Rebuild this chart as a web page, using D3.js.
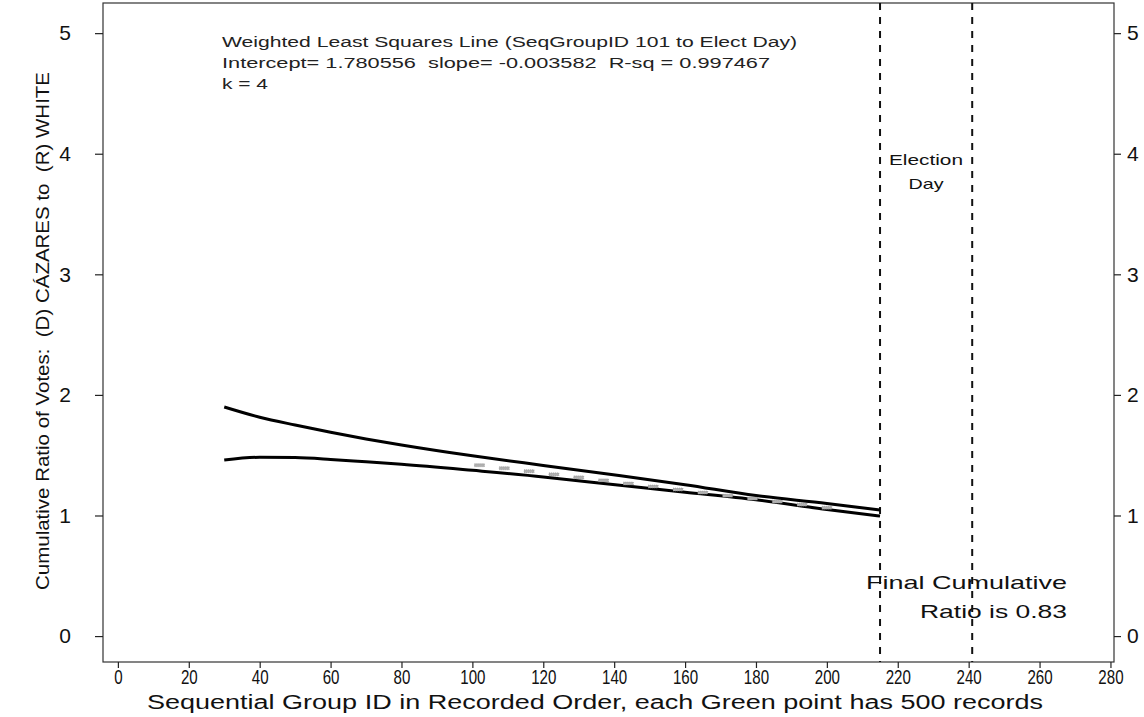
<!DOCTYPE html>
<html>
<head>
<meta charset="utf-8">
<script src="https://cdnjs.cloudflare.com/ajax/libs/d3/7.8.5/d3.min.js"></script>
<style>
    body { margin: 0; background: #fff; }
    text { font-family: 'Liberation Sans', Arial, sans-serif; fill: #111; white-space: pre; }
</style>
</head>
<body>
<svg id="chart" width="1144" height="717"></svg>
<script>
'use strict';

// tick values
var xTicks = [0, 20, 40, 60, 80, 100, 120, 140, 160, 180, 200, 220, 240, 260, 280];
var yTicks = [0, 1, 2, 3, 4, 5];

// upper / lower curves (SeqGroupID, cumulative ratio)
var upperX = [30, 40, 50, 60, 70, 80, 100, 120, 136, 160, 180, 200, 215];
var upperY = [1.90, 1.815, 1.75, 1.69, 1.635, 1.585, 1.495, 1.415, 1.352, 1.255, 1.165, 1.10, 1.045];
var lowerX = [30, 40, 50, 60, 70, 80, 100, 120, 133, 160, 180, 200, 215];
var lowerY = [1.46, 1.483, 1.48, 1.465, 1.445, 1.425, 1.375, 1.32, 1.277, 1.193, 1.13, 1.05, 0.995];

// group points near the fitted line
var pointX = [102, 109, 116, 123, 130, 137, 144, 151, 158, 165, 172, 179, 186, 193, 200];
var pointY = [1.417, 1.392, 1.367, 1.341, 1.316, 1.291, 1.265, 1.240, 1.215, 1.190, 1.164, 1.140, 1.115, 1.090, 1.064];

// vertical markers
var electionDay = 215;
var finalDay = 241;

var svg = d3.select('#chart');

var x = d3.scaleLinear().domain([-4.2, 281]).range([103, 1114]);
var y = d3.scaleLinear().domain([-0.215, 5.25]).range([662, 3]);

/*
 * Frame
 */
svg.append('rect')
    .attr('x', x.range()[0])
    .attr('y', y.range()[1])
    .attr('width', x.range()[1] - x.range()[0])
    .attr('height', y.range()[0] - y.range()[1])
    .style('fill', 'none')
    .style('stroke', '#333')
    .style('stroke-width', 1.2);

/*
 * Axes
 */
var left = svg.append('g')
    .attr('transform', 'translate(' + x.range()[0] + ',0)')
    .call(d3.axisLeft(y).tickValues(yTicks).tickSize(8).tickPadding(24).tickFormat(d3.format('d')));
left.selectAll('text').style('font-size', '21px');

var right = svg.append('g')
    .attr('transform', 'translate(' + x.range()[1] + ',0)')
    .call(d3.axisRight(y).tickValues(yTicks).tickSize(7).tickPadding(6).tickFormat(d3.format('d')));
right.selectAll('text').style('font-size', '21px');

var bottom = svg.append('g')
    .attr('transform', 'translate(0,' + y.range()[0] + ')')
    .call(d3.axisBottom(x).tickValues(xTicks).tickSize(6).tickPadding(2).tickFormat(d3.format('d')));
bottom.selectAll('text')
    .style('font-size', '20px')
    .attr('textLength', function(d) { return String(d).length * 8.4; })
    .attr('lengthAdjust', 'spacingAndGlyphs');

svg.selectAll('.domain').remove();
svg.selectAll('.tick line').style('stroke', '#222').style('stroke-width', 1.2);
svg.selectAll('.tick text').style('fill', '#111');

/*
 * Election day dashed lines
 */
svg.selectAll('line.vday')
    .data([electionDay, finalDay])
    .enter()
    .append('line')
    .attr('class', 'vday')
    .attr('x1', function(d) { return x(d); })
    .attr('x2', function(d) { return x(d); })
    .attr('y1', y.range()[1])
    .attr('y2', y.range()[0])
    .style('stroke', '#111')
    .style('stroke-width', 2)
    .style('stroke-dasharray', '7,7');

/*
 * Curves
 */
var line = d3.line()
    .x(function(d) { return x(d[0]); })
    .y(function(d) { return y(d[1]); })
    .curve(d3.curveMonotoneX);

[[upperX, upperY], [lowerX, lowerY]].forEach(function(s) {
    svg.append('path')
        .datum(d3.zip(s[0], s[1]))
        .attr('d', line)
        .style('fill', 'none')
        .style('stroke', '#000')
        .style('stroke-width', 3);
});

/*
 * Points
 */
svg.selectAll('rect.pt')
    .data(d3.zip(pointX, pointY))
    .enter()
    .append('rect')
    .attr('class', 'pt')
    .attr('x', function(d) { return x(d[0]) - 5; })
    .attr('y', function(d) { return y(d[1]) - 1.5; })
    .attr('width', 10)
    .attr('height', 3)
    .style('fill', '#b0b0b0')
    .style('stroke', '#777')
    .style('stroke-width', 0.5)
    .style('stroke-dasharray', '1,1');

/*
 * Texts
 */
function addText(txt, px, py, size, len, anchor) {
    var t = svg.append('text')
        .attr('x', px)
        .attr('y', py)
        .style('font-size', size + 'px')
        .style('text-anchor', anchor || 'start')
        .text(txt);
    if (len) {
        t.attr('textLength', len).attr('lengthAdjust', 'spacingAndGlyphs');
    }
    return t;
}

addText('Weighted Least Squares Line (SeqGroupID 101 to Elect Day)', 222, 47, 14, 575).style('fill', '#222');
addText('Intercept= 1.780556  slope= -0.003582  R-sq = 0.997467', 222, 68, 14, 548).style('fill', '#222');
addText('k = 4', 222, 89, 14, 46).style('fill', '#222');

addText('Election', 926, 165, 15, 74, 'middle');
addText('Day', 926, 189, 15, 35, 'middle');

addText('Final Cumulative', 866, 589, 19, 201);
addText('Ratio is 0.83', 920, 618, 19, 147);

// axis titles
addText('Sequential Group ID in Recorded Order, each Green point has 500 records', 147, 709, 20, 896);

svg.append('text')
    .attr('transform', 'translate(49,331) rotate(-90)')
    .style('font-size', '19px')
    .style('text-anchor', 'middle')
    .attr('textLength', 518)
    .attr('lengthAdjust', 'spacingAndGlyphs')
    .text('Cumulative Ratio of Votes:  (D) CÁZARES to  (R) WHITE');
</script>
</body>
</html>
